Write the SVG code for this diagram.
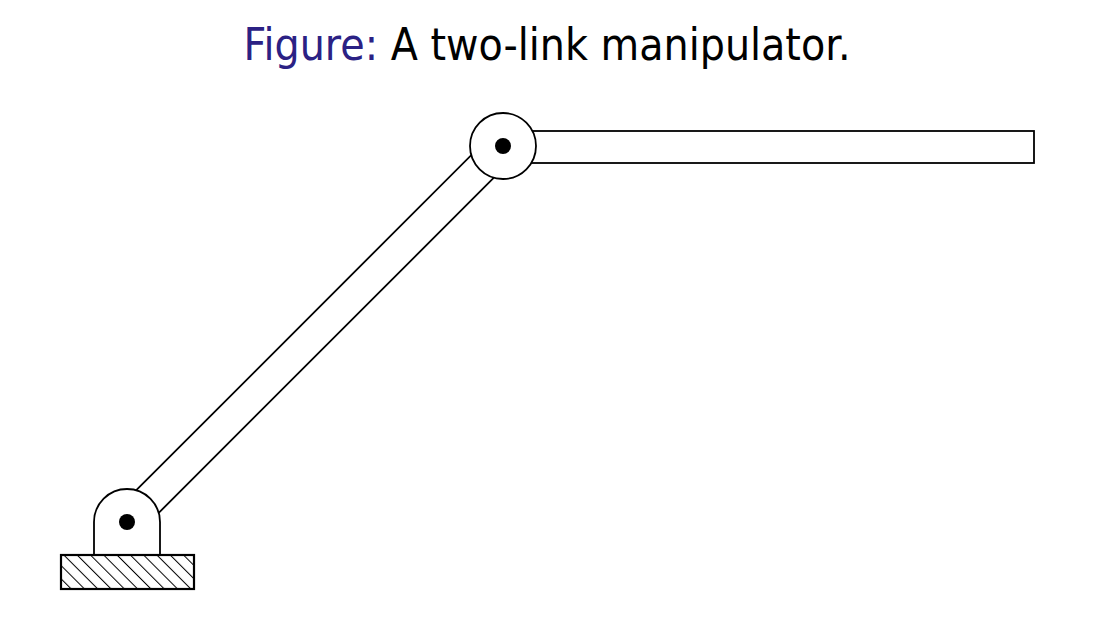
<svg xmlns="http://www.w3.org/2000/svg" width="1107" height="637" viewBox="0 0 1107 637">
<style>
.ln{fill:#fff;stroke:#000;stroke-width:1.8}
.dot{fill:#000}
.title{font-family:"DejaVu Sans","Liberation Sans",sans-serif;font-size:44px;fill:#000}
</style>
<defs>
<pattern id="hatch" patternUnits="userSpaceOnUse" width="9.4" height="9.4" patternTransform="rotate(-45)">
<line x1="0" y1="0" x2="0" y2="9.4" stroke="#000" stroke-width="2"/>
</pattern>
</defs>
<rect width="1107" height="637" fill="#fff"/>
<text class="title" x="547" y="60" text-anchor="middle" textLength="607" lengthAdjust="spacingAndGlyphs"><tspan fill="#2b2184">Figure:</tspan> A two-link manipulator.</text>
<g id="connectors">
<polygon id="link1" class="ln" points="115.7,510.7 491.7,134.7 514.3,157.3 138.3,533.3"/>
<rect id="link2" class="ln" x="503" y="131" width="531" height="32"/>
</g>
<g id="base">
<path class="ln" d="M94,555 L94,522 A33,33 0 0 1 160,522 L160,555 Z"/>
<rect x="61" y="555" width="133" height="34" fill="url(#hatch)" stroke="#000" stroke-width="2.2"/>
<circle class="dot" cx="127" cy="522" r="8"/>
</g>
<g id="joint2">
<circle class="ln" cx="503" cy="146" r="33"/>
<circle class="dot" cx="503" cy="146" r="8"/>
</g>
</svg>
